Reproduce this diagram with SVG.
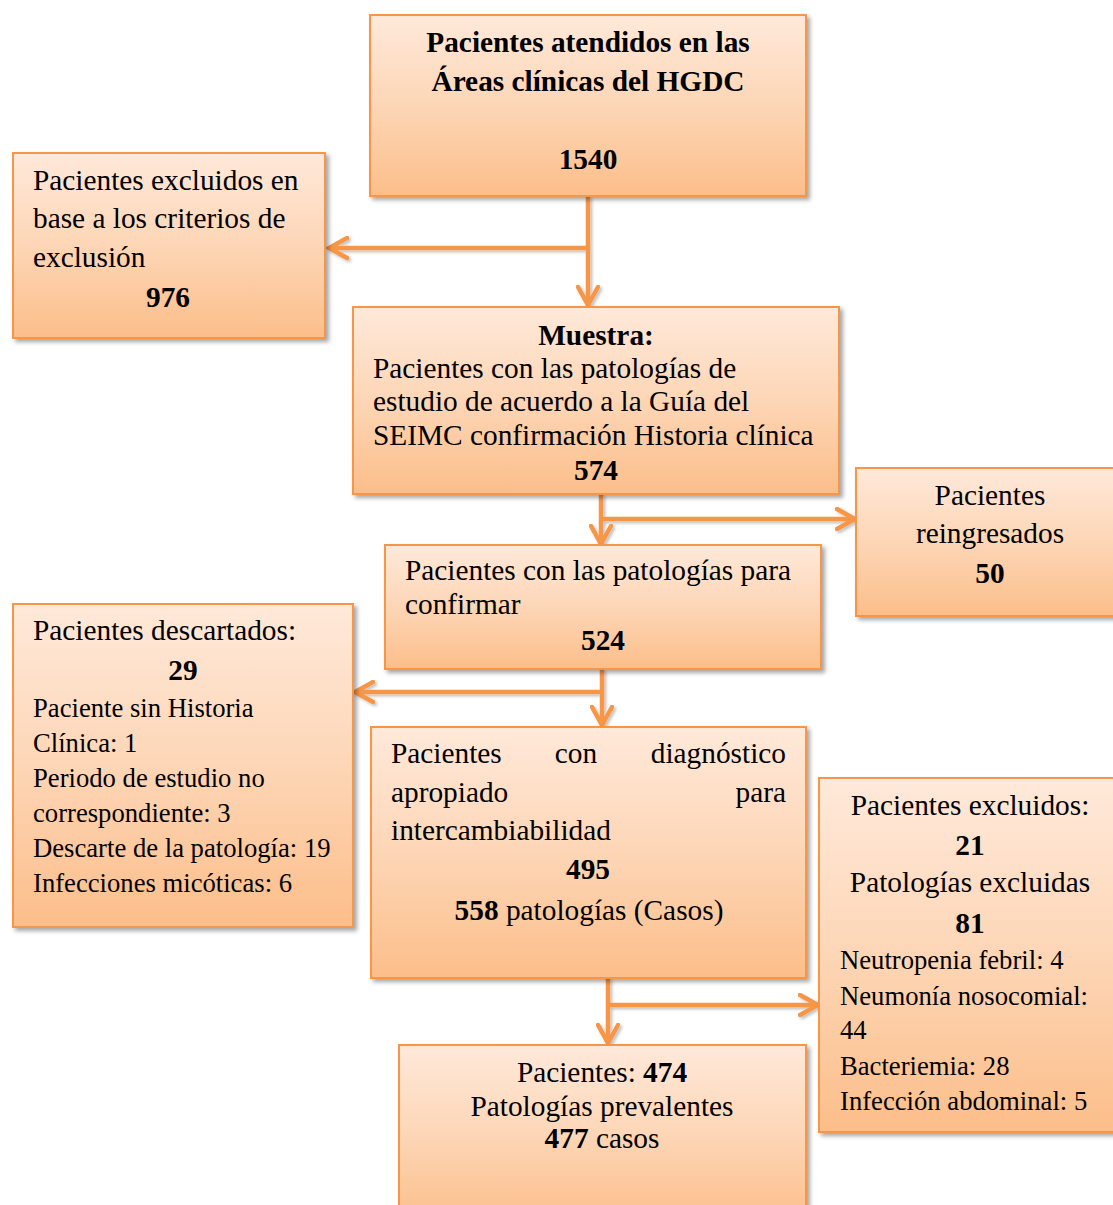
<svg xmlns="http://www.w3.org/2000/svg" width="1113" height="1205" viewBox="0 0 1113 1205">
  <defs>
    <linearGradient id="boxFill" x1="0" y1="0" x2="0" y2="1">
      <stop offset="0" stop-color="#FFE9DA"/>
      <stop offset="0.5" stop-color="#FDD6B6"/>
      <stop offset="1" stop-color="#FCBE8A"/>
    </linearGradient>
    <filter id="shadow" x="-5%" y="-5%" width="115%" height="115%">
      <feDropShadow dx="3" dy="3" stdDeviation="2" flood-color="#000" flood-opacity="0.35"/>
    </filter>
    <filter id="lineShadow" x="-10%" y="-10%" width="130%" height="130%">
      <feDropShadow dx="2" dy="2" stdDeviation="1.5" flood-color="#000" flood-opacity="0.25"/>
    </filter>
    <marker id="chev" viewBox="0 0 24 24" markerUnits="userSpaceOnUse" markerWidth="24" markerHeight="24" refX="20" refY="12" orient="auto">
      <path d="M2,2 L20,12 L2,22" fill="none" stroke="#F79646" stroke-width="4.5" stroke-linecap="round"/>
    </marker>
  </defs>
  <style>
    .box { fill: url(#boxFill); stroke: #F79646; stroke-width: 2; filter: url(#shadow); }
    .t { font-family: "Liberation Serif", "Times New Roman", serif; font-size: 29.33px; fill: #000; }
    .s { font-size: 26.67px; }
    .b { font-weight: bold; }
    .c { text-anchor: middle; }
    .e { text-anchor: end; }
    .link { fill: none; stroke: #F79646; stroke-width: 4.5; }
  </style>

  <rect width="1113" height="1205" fill="#FFFFFF"/>

  <!-- connectors -->
  <g id="connectors" filter="url(#lineShadow)">
    <path class="link" d="M588,196 L588,305" marker-end="url(#chev)"/>
    <path class="link" d="M588,248 L329,248" marker-end="url(#chev)"/>
    <path class="link" d="M601,494 L601,544" marker-end="url(#chev)"/>
    <path class="link" d="M601,519 L855,519" marker-end="url(#chev)"/>
    <path class="link" d="M602,669 L602,725" marker-end="url(#chev)"/>
    <path class="link" d="M602,692 L355,692" marker-end="url(#chev)"/>
    <path class="link" d="M608,978 L608,1043" marker-end="url(#chev)"/>
    <path class="link" d="M608,1005 L818,1005" marker-end="url(#chev)"/>
  </g>

  <!-- total patients -->
  <g id="node-atendidos">
    <rect class="box" x="370" y="15" width="436" height="181"/>
    <text class="t b c" x="588" y="52">Pacientes atendidos en las</text>
    <text class="t b c" x="588" y="91">Áreas clínicas del HGDC</text>
    <text class="t b c" x="588" y="169">1540</text>
  </g>

  <!-- excluded by criteria -->
  <g id="node-excluidos-criterios">
    <rect class="box" x="13" y="153" width="312" height="185"/>
    <text class="t" x="33" y="190">Pacientes excluidos en</text>
    <text class="t" x="33" y="228">base a los criterios de</text>
    <text class="t" x="33" y="267">exclusión</text>
    <text class="t b c" x="168" y="307">976</text>
  </g>

  <!-- sample -->
  <g id="node-muestra">
    <rect class="box" x="353" y="307" width="486" height="187"/>
    <text class="t b c" x="596" y="345">Muestra:</text>
    <text class="t" x="373" y="378">Pacientes con las patologías de</text>
    <text class="t" x="373" y="411">estudio de acuerdo a la Guía del</text>
    <text class="t" x="373" y="445">SEIMC confirmación Historia clínica</text>
    <text class="t b c" x="596" y="480">574</text>
  </g>

  <!-- readmitted -->
  <g id="node-reingresados">
    <rect class="box" x="856" y="468" width="270" height="148"/>
    <text class="t c" x="990" y="505">Pacientes</text>
    <text class="t c" x="990" y="543">reingresados</text>
    <text class="t b c" x="990" y="583">50</text>
  </g>

  <!-- to confirm -->
  <g id="node-confirmar">
    <rect class="box" x="385" y="545" width="436" height="124"/>
    <text class="t" x="405" y="580">Pacientes con las patologías para</text>
    <text class="t" x="405" y="614">confirmar</text>
    <text class="t b c" x="603" y="650">524</text>
  </g>

  <!-- discarded -->
  <g id="node-descartados">
    <rect class="box" x="13" y="604" width="340" height="323"/>
    <text class="t" x="33" y="640">Pacientes descartados:</text>
    <text class="t b c" x="183" y="680">29</text>
    <text class="t s" x="33" y="717">Paciente sin Historia</text>
    <text class="t s" x="33" y="752">Clínica: 1</text>
    <text class="t s" x="33" y="787">Periodo de estudio no</text>
    <text class="t s" x="33" y="822">correspondiente: 3</text>
    <text class="t s" x="33" y="857">Descarte de la patología: 19</text>
    <text class="t s" x="33" y="892">Infecciones micóticas: 6</text>
  </g>

  <!-- appropriate diagnosis -->
  <g id="node-diagnostico">
    <rect class="box" x="371" y="727" width="435" height="251"/>
    <text class="t" x="391" y="763">Pacientes</text>
    <text class="t c" x="576" y="763">con</text>
    <text class="t e" x="786" y="763">diagnóstico</text>
    <text class="t" x="391" y="802">apropiado</text>
    <text class="t e" x="786" y="802">para</text>
    <text class="t" x="391" y="840">intercambiabilidad</text>
    <text class="t b c" x="588" y="879">495</text>
    <text class="t c" x="589" y="920"><tspan class="b">558</tspan> patologías (Casos)</text>
  </g>

  <!-- excluded pathologies -->
  <g id="node-excluidos-patologias">
    <rect class="box" x="819" y="778" width="305" height="354"/>
    <text class="t c" x="970" y="815">Pacientes excluidos:</text>
    <text class="t b c" x="970" y="855">21</text>
    <text class="t c" x="970" y="892">Patologías excluidas</text>
    <text class="t b c" x="970" y="933">81</text>
    <text class="t s" x="840" y="969">Neutropenia febril: 4</text>
    <text class="t s" x="840" y="1005">Neumonía nosocomial:</text>
    <text class="t s" x="840" y="1039">44</text>
    <text class="t s" x="840" y="1075">Bacteriemia: 28</text>
    <text class="t s" x="840" y="1110">Infección abdominal: 5</text>
  </g>

  <!-- prevalent pathologies -->
  <g id="node-prevalentes">
    <rect class="box" x="399" y="1045" width="407" height="180"/>
    <text class="t c" x="602" y="1082">Pacientes: <tspan class="b">474</tspan></text>
    <text class="t c" x="602" y="1116">Patologías prevalentes</text>
    <text class="t c" x="602" y="1148"><tspan class="b">477</tspan> casos</text>
  </g>
</svg>
